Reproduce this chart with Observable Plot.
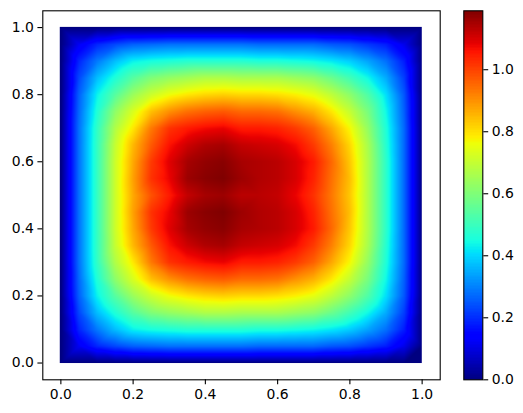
<!DOCTYPE html>
<html><head><meta charset="utf-8">
<script src="https://cdn.jsdelivr.net/npm/d3@7"></script>
<script src="https://cdn.jsdelivr.net/npm/@observablehq/plot@0.6"></script>
<style>html,body{margin:0;padding:0;background:#fff}#c{display:flex;width:523px;height:413px}</style>
</head><body><div id="c"></div>
<script>
const xTicks=[0,0.2,0.4,0.6,0.8,1];
const yTicks=[0,0.2,0.4,0.6,0.8,1];
const barTicks=[0,0.2,0.4,0.6,0.8,1];
const grid=[0,0.05,0.1,0.15,0.2,0.25,0.3,0.35,0.4,0.45,0.5,0.55,0.6,0.65,0.7,0.75,0.8,0.85,0.9,0.95,1];
const maxValue=1.19;
const jetStops=[0,.11,.125,.34,.35,.375,.64,.65,.66,.89,.91,1];
const jetColors=["#000080","#0000ff","#0000ff","#00dbff","#00e6f7","#15ffe2","#eeff08","#f7f600","#ffec00","#ff1300","#e80000","#800000"];
// rows from y=0 to y=1, each from x=0 to x=1
const rows=[
[0,0,0,0,0,0,0,0,0,0,0,0,0,0,0,0,0,0,0,0,0],
[0,.12,.19,.23,.26,.27,.28,.28,.28,.28,.28,.27,.27,.27,.27,.25,.24,.21,.18,.11,0],
[0,.19,.29,.37,.43,.45,.46,.47,.47,.47,.47,.46,.46,.45,.44,.42,.39,.34,.28,.18,0],
[0,.23,.37,.46,.54,.60,.63,.65,.67,.67,.66,.66,.66,.64,.62,.57,.51,.44,.35,.22,0],
[0,.26,.43,.54,.64,.71,.76,.79,.81,.82,.81,.81,.80,.78,.75,.69,.62,.53,.41,.25,0],
[0,.27,.46,.62,.73,.84,.90,.94,.96,.97,.95,.95,.94,.90,.86,.79,.70,.59,.44,.26,0],
[0,.28,.485,.67,.79,.93,1.02,1.05,1.07,1.08,1.05,1.05,1.04,1.01,.96,.87,.77,.63,.46,.27,0],
[0,.28,.49,.70,.85,.97,1.06,1.11,1.14,1.15,1.12,1.11,1.10,1.07,1.01,.92,.81,.66,.47,.27,0],
[0,.28,.49,.71,.87,1.01,1.09,1.15,1.17,1.18,1.15,1.14,1.13,1.10,1.05,.95,.83,.67,.48,.27,0],
[0,.28,.49,.71,.88,1.02,1.08,1.16,1.18,1.19,1.16,1.14,1.13,1.10,1.04,.94,.84,.67,.48,.27,0],
[0,.28,.49,.71,.87,.98,1.05,1.12,1.15,1.16,1.13,1.13,1.12,1.08,1.02,.93,.83,.67,.48,.27,0],
[0,.28,.49,.71,.88,1.02,1.08,1.16,1.18,1.19,1.16,1.14,1.13,1.10,1.04,.94,.84,.67,.48,.27,0],
[0,.28,.49,.71,.87,1.01,1.09,1.15,1.17,1.18,1.15,1.14,1.13,1.10,1.05,.95,.83,.67,.48,.27,0],
[0,.28,.49,.70,.85,.97,1.06,1.11,1.14,1.15,1.12,1.11,1.10,1.07,1.01,.92,.81,.66,.47,.27,0],
[0,.28,.485,.67,.79,.93,1.02,1.05,1.07,1.08,1.05,1.05,1.04,1.01,.96,.87,.77,.63,.46,.27,0],
[0,.27,.46,.62,.73,.84,.90,.94,.96,.97,.95,.95,.94,.90,.86,.79,.70,.59,.44,.26,0],
[0,.26,.43,.54,.64,.71,.76,.79,.81,.82,.81,.81,.80,.78,.75,.69,.62,.53,.41,.25,0],
[0,.23,.37,.46,.54,.60,.63,.65,.67,.67,.66,.66,.66,.64,.62,.57,.51,.44,.35,.22,0],
[0,.19,.29,.37,.43,.45,.46,.47,.47,.47,.47,.46,.46,.45,.44,.42,.39,.34,.28,.18,0],
[0,.12,.19,.23,.26,.27,.28,.28,.28,.28,.28,.27,.27,.27,.27,.25,.24,.21,.18,.11,0],
[0,0,0,0,0,0,0,0,0,0,0,0,0,0,0,0,0,0,0,0,0]
];
const points=rows.flatMap((r,j)=>r.map((v,i)=>({x:grid[i],y:grid[j],v})));
const color={type:"linear",domain:jetStops.map(t=>t*maxValue),range:jetColors,interpolate:"rgb",clamp:true};
const font={fontFamily:"'DejaVu Sans'",fontSize:"13.9px",color:"#000",background:"#fff",overflow:"visible"};
const main=Plot.plot({
  width:450,height:413,marginLeft:42.3,marginRight:10.3,marginTop:10.3,marginBottom:33.7,
  style:font,
  x:{domain:[-0.05,1.05]},y:{domain:[-0.05,1.05]},color,
  marks:[
    Plot.raster(points,{x:"x",y:"y",fill:"v",x1:-0.003,x2:0.999,y1:0,y2:1.002,interpolate:"barycentric"}),
    Plot.axisX({ticks:xTicks,tickFormat:d3.format(".1f"),tickSize:4.9,tickPadding:4,strokeWidth:1.1,strokeOpacity:1,label:null}),
    Plot.axisY({ticks:yTicks,tickFormat:d3.format(".1f"),tickSize:4.9,tickPadding:4,strokeWidth:1.1,strokeOpacity:1,label:null}),
    Plot.frame({stroke:"#000",strokeWidth:1.1})
  ]
});
const bar=Plot.plot({
  width:73,height:413,marginLeft:13.3,marginRight:40.7,marginTop:10.3,marginBottom:33.7,
  style:font,
  x:{domain:[0,1],axis:null},y:{domain:[0,maxValue]},color,
  marks:[
    Plot.raster({fill:(x,y)=>y,x1:0,x2:1,y1:0,y2:maxValue,width:1,height:256,imageRendering:"pixelated"}),
    Plot.axisY({anchor:"right",ticks:barTicks,tickFormat:d3.format(".1f"),tickSize:4.9,tickPadding:4,strokeWidth:1.1,strokeOpacity:1,label:null}),
    Plot.frame({stroke:"#000",strokeWidth:1.1})
  ]
});
document.getElementById("c").append(main,bar);
</script></body></html>
